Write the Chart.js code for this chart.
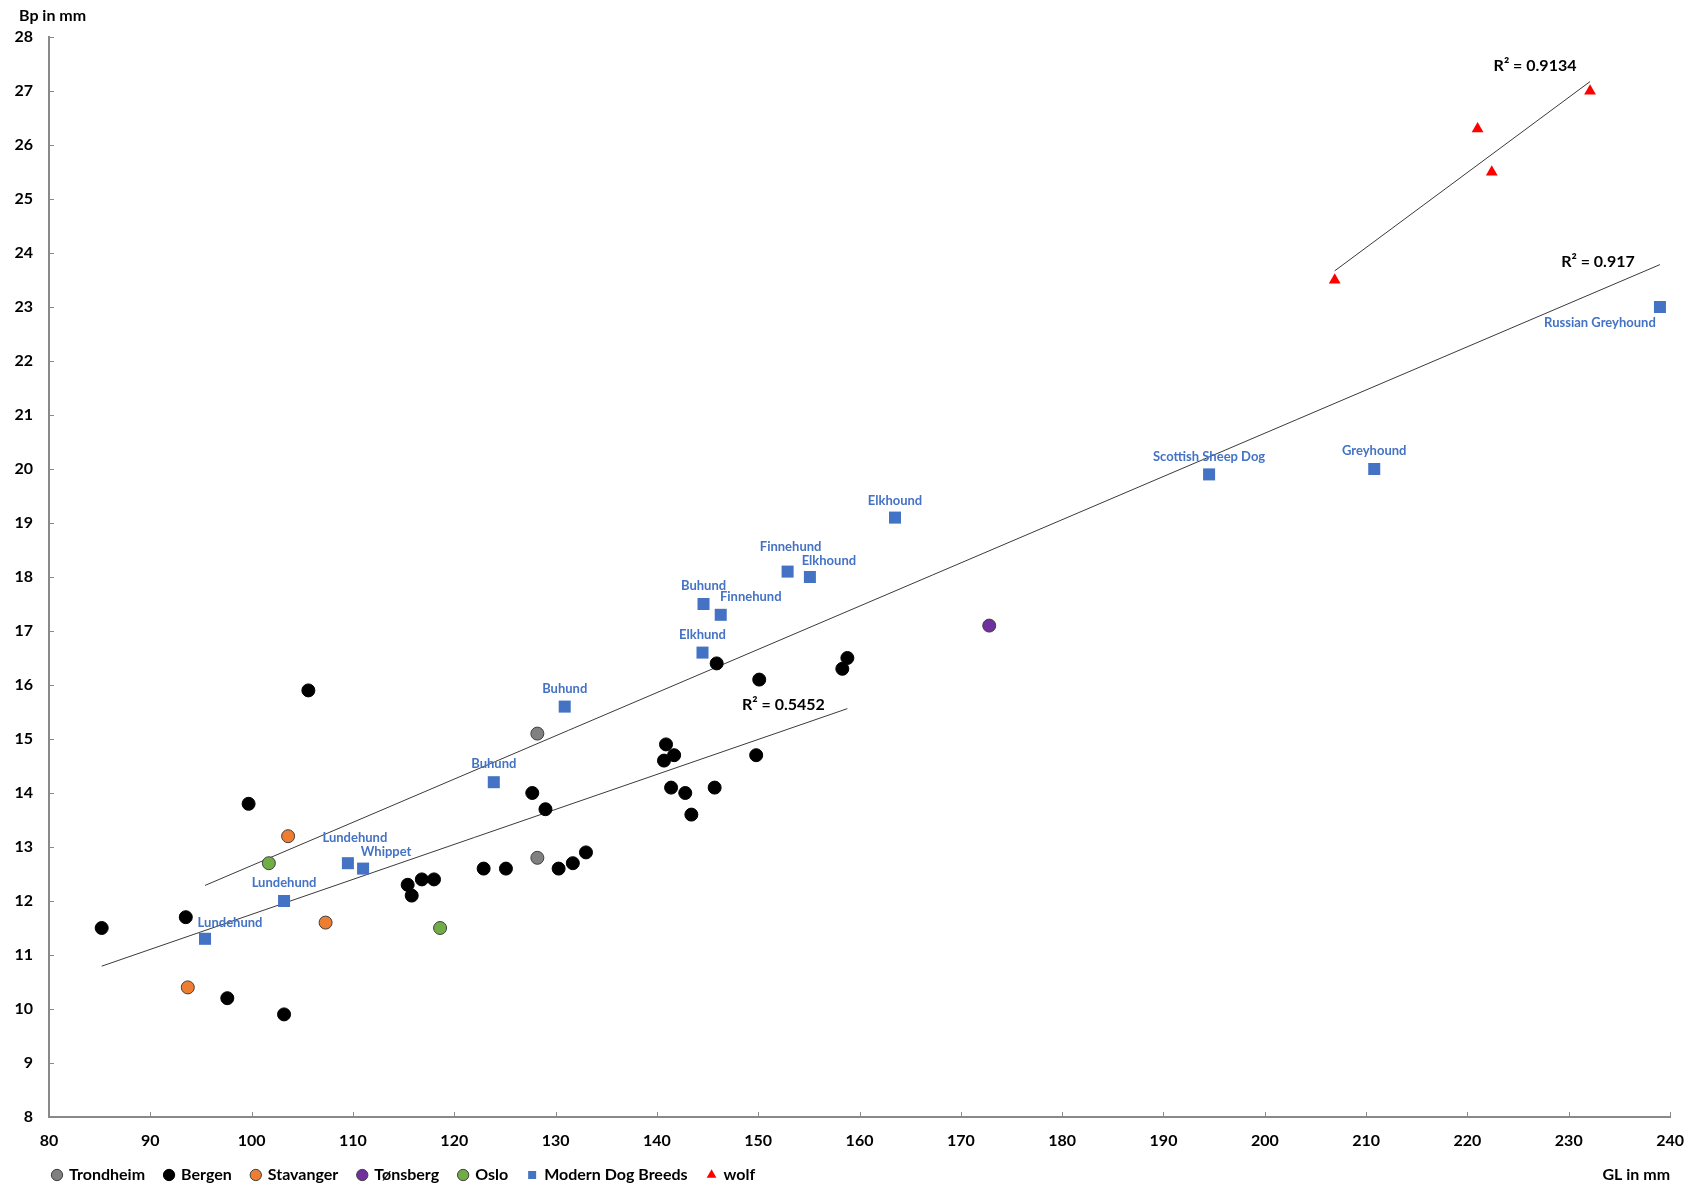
<!DOCTYPE html>
<html>
<head>
<meta charset="utf-8">
<title>GL vs Bp</title>
<script src="https://cdn.jsdelivr.net/npm/chart.js@4.4.1/dist/chart.umd.min.js"></script>
<style>
  html, body { margin: 0; padding: 0; background: #ffffff; }
  #wrap { width: 1698px; height: 1189px; }
</style>
</head>
<body>
<div id="wrap"><canvas id="chart" width="1698" height="1189"></canvas></div>
<script>
// ---- Measurements: greatest length (GL) and proximal breadth (Bp), in mm ----
const trondheimGL = [128.2, 128.2];
const trondheimBp = [15.1, 12.8];

const bergenGL = [85.2, 93.5, 97.6, 99.7, 103.2, 105.6, 115.4, 115.8, 116.8, 118.0,
                  122.9, 125.1, 127.7, 129.0, 130.3, 131.7, 133.0, 140.7, 140.9, 141.4,
                  141.7, 142.8, 143.4, 145.7, 145.9, 149.8, 150.1, 158.3, 158.8];
const bergenBp = [11.5, 11.7, 10.2, 13.8, 9.9, 15.9, 12.3, 12.1, 12.4, 12.4,
                  12.6, 12.6, 14.0, 13.7, 12.6, 12.7, 12.9, 14.6, 14.9, 14.1,
                  14.7, 14.0, 13.6, 14.1, 16.4, 14.7, 16.1, 16.3, 16.5];

const stavangerGL = [93.7, 103.6, 107.3];
const stavangerBp = [10.4, 13.2, 11.6];

const tonsbergGL = [172.8];
const tonsbergBp = [17.1];

const osloGL = [101.7, 118.6];
const osloBp = [12.7, 11.5];

const breedNames = ['Lundehund', 'Lundehund', 'Lundehund', 'Whippet', 'Buhund', 'Buhund',
                    'Elkhund', 'Buhund', 'Finnehund', 'Finnehund', 'Elkhound', 'Elkhound',
                    'Scottish Sheep Dog', 'Greyhound', 'Russian Greyhound'];
const breedGL = [95.4, 103.2, 109.5, 111.0, 123.9, 130.9, 144.5, 144.6, 146.3, 152.9,
                 155.1, 163.5, 194.5, 210.8, 239.0];
const breedBp = [11.3, 12.0, 12.7, 12.6, 14.2, 15.6, 16.6, 17.5, 17.3, 18.1,
                 18.0, 19.1, 19.9, 20.0, 23.0];

const wolfGL = [206.9, 221.0, 222.4, 232.1];
const wolfBp = [23.5, 26.3, 25.5, 27.0];

const xTicks = { min: 80, max: 240, step: 10 };
const yTicks = { min: 8, max: 28, step: 1 };

const rSquaredTexts = { bergen: 'R² = 0.5452', breeds: 'R² = 0.917', wolf: 'R² = 0.9134' };

// ---- Styling / layout ----
const FONT = 'Lato, Carlito, "Open Sans", sans-serif';
const AXIS_COLOR = '#898989';
const BREED_BLUE = '#4472C4';
// label offsets (px) of each breed name from its marker centre
const breedLabelOffsets = [[25, -16], [0, -18], [7, -25], [23, -17], [0, -18], [0, -18],
                           [0, -18], [0, -18], [30, -18], [3, -25], [19, -16], [0, -17],
                           [0, -18], [0, -18], [-60, 16]];
// R² label offsets (px) from the right end of each trend line
const r2Offsets = { bergen: [-64, -4], breeds: [-62, -3], wolf: [-55, -16] };
const LEGEND_LEFT = 33;

function toPoints(xs, ys) { return xs.map((x, i) => ({ x: x, y: ys[i] })); }

// least-squares line through a series, spanning its own GL range
function trendLine(xs, ys) {
  const n = xs.length;
  const mx = xs.reduce((a, b) => a + b, 0) / n;
  const my = ys.reduce((a, b) => a + b, 0) / n;
  let sxy = 0, sxx = 0;
  for (let i = 0; i < n; i++) { sxy += (xs[i] - mx) * (ys[i] - my); sxx += (xs[i] - mx) ** 2; }
  const b = sxy / sxx, a = my - b * mx;
  const x0 = Math.min(...xs), x1 = Math.max(...xs);
  return [{ x: x0, y: a + b * x0 }, { x: x1, y: a + b * x1 }];
}

const trendStyle = {
  type: 'line', showLine: true, borderColor: '#3a3a3a', borderWidth: 1,
  pointRadius: 0, fill: false, order: 10, isTrend: true
};

const datasets = [
  { label: 'Trondheim', data: toPoints(trondheimGL, trondheimBp), pointStyle: 'circle',
    pointRadius: 6.5, backgroundColor: '#808080', borderColor: '#404040', borderWidth: 1 },
  { label: 'Bergen', data: toPoints(bergenGL, bergenBp), pointStyle: 'circle',
    pointRadius: 6.5, backgroundColor: '#000000', borderColor: '#000000', borderWidth: 1 },
  { label: 'Stavanger', data: toPoints(stavangerGL, stavangerBp), pointStyle: 'circle',
    pointRadius: 6.5, backgroundColor: '#ED7D31', borderColor: '#404040', borderWidth: 1 },
  { label: 'Tønsberg', data: toPoints(tonsbergGL, tonsbergBp), pointStyle: 'circle',
    pointRadius: 6.5, backgroundColor: '#7030A0', borderColor: '#404040', borderWidth: 1 },
  { label: 'Oslo', data: toPoints(osloGL, osloBp), pointStyle: 'circle',
    pointRadius: 6.5, backgroundColor: '#70AD47', borderColor: '#404040', borderWidth: 1 },
  { label: 'Modern Dog Breeds', data: toPoints(breedGL, breedBp), pointStyle: 'rect',
    pointRadius: 8.5, backgroundColor: BREED_BLUE, borderColor: BREED_BLUE, borderWidth: 0 },
  { label: 'wolf', data: toPoints(wolfGL, wolfBp), pointStyle: 'triangle',
    pointRadius: 6.8, backgroundColor: '#FF0000', borderColor: '#FF0000', borderWidth: 0 },
  Object.assign({ label: 'trend-bergen', data: trendLine(bergenGL, bergenBp), r2: 'bergen' }, trendStyle),
  Object.assign({ label: 'trend-breeds', data: trendLine(breedGL, breedBp), r2: 'breeds' }, trendStyle),
  Object.assign({ label: 'trend-wolf', data: trendLine(wolfGL, wolfBp), r2: 'wolf' }, trendStyle)
];

// inward tick marks, breed names, R² texts and axis titles
const annotations = {
  id: 'annotations',
  afterLayout(chart) {
    // indent the legend row so it lines up under the plot
    if (chart.legend) chart.legend.left = LEGEND_LEFT;
  },
  afterDatasetsDraw(chart) {
    const { ctx, chartArea, scales: { x, y } } = chart;
    ctx.save();
    // tick marks pointing into the plot
    ctx.strokeStyle = AXIS_COLOR;
    ctx.lineWidth = 1;
    ctx.beginPath();
    x.ticks.forEach(t => {
      if (t.value === xTicks.min) return;
      const px = Math.round(x.getPixelForValue(t.value)) + 0.5;
      ctx.moveTo(px, chartArea.bottom);
      ctx.lineTo(px, chartArea.bottom - 5);
    });
    y.ticks.forEach(t => {
      if (t.value === yTicks.min) return;
      const py = Math.round(y.getPixelForValue(t.value)) + 0.5;
      ctx.moveTo(chartArea.left, py);
      ctx.lineTo(chartArea.left + 5, py);
    });
    ctx.stroke();

    // breed names
    const breedMeta = chart.getDatasetMeta(5);
    ctx.font = 'bold 13px ' + FONT;
    ctx.fillStyle = BREED_BLUE;
    ctx.textAlign = 'center';
    ctx.textBaseline = 'middle';
    breedMeta.data.forEach((el, i) => {
      const [dx, dy] = breedLabelOffsets[i];
      ctx.fillText(breedNames[i], el.x + dx, el.y + dy);
    });

    // R² texts near the upper end of each trend line
    ctx.font = 'bold 16px ' + FONT;
    ctx.fillStyle = '#000000';
    chart.data.datasets.forEach((ds, i) => {
      if (!ds.isTrend) return;
      const end = chart.getDatasetMeta(i).data[1];
      const [dx, dy] = r2Offsets[ds.r2];
      ctx.fillText(rSquaredTexts[ds.r2], end.x + dx, end.y + dy);
    });

    // axis titles
    ctx.textAlign = 'left';
    ctx.fillText('Bp in mm', 19, 16);
    ctx.textAlign = 'right';
    ctx.fillText('GL in mm', chartArea.right, 1175);
    ctx.restore();
  }
};

Chart.defaults.font.family = FONT;

new Chart(document.getElementById('chart'), {
  type: 'scatter',
  data: { datasets: datasets },
  options: {
    responsive: false,
    devicePixelRatio: 1,
    animation: false,
    layout: { padding: { left: 0, right: 25, top: 37, bottom: -4 } },
    plugins: {
      tooltip: { enabled: false },
      legend: {
        position: 'bottom',
        align: 'start',
        labels: {
          filter: item => !datasets[item.datasetIndex].isTrend,
          usePointStyle: true,
          boxHeight: 8,
          boxWidth: 8,
          padding: 20,
          color: '#000000',
          font: { size: 16, weight: 'bold' }
        }
      }
    },
    scales: {
      x: {
        type: 'linear',
        min: xTicks.min, max: xTicks.max,
        grid: { display: false, drawTicks: false },
        border: { display: true, color: AXIS_COLOR, width: 2 },
        ticks: { stepSize: xTicks.step, padding: 14, color: '#000000',
                 font: { size: 16, weight: 'bold' }, maxRotation: 0 },
        afterFit: s => { s.height = 30; }
      },
      y: {
        type: 'linear',
        min: yTicks.min, max: yTicks.max,
        grid: { display: false, drawTicks: false },
        border: { display: true, color: AXIS_COLOR, width: 2 },
        ticks: { stepSize: yTicks.step, padding: 16, color: '#000000',
                 font: { size: 16, weight: 'bold' } },
        afterFit: s => { s.width = 49; }
      }
    }
  },
  plugins: [annotations]
});
</script>
</body>
</html>
